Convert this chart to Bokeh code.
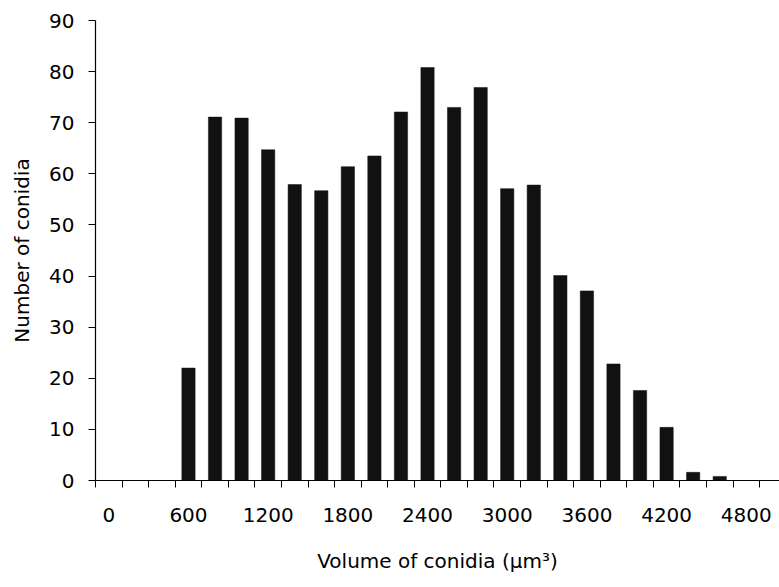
from bokeh.plotting import figure
from bokeh.models import FixedTicker, Range1d
from bokeh.embed import file_html
from bokeh.resources import INLINE

# Data (bin = 200 um^3)
volumes = [600, 800, 1000, 1200, 1400, 1600, 1800, 2000, 2200, 2400, 2600,
           2800, 3000, 3200, 3400, 3600, 3800, 4000, 4200, 4400, 4600]
counts = [22.0, 71.1, 70.9, 64.7, 57.9, 56.7, 61.4, 63.5, 72.1, 80.8, 73.0,
          76.9, 57.1, 57.8, 40.1, 37.1, 22.8, 17.6, 10.4, 1.6, 0.8]
x_tick_labels = [0, 600, 1200, 1800, 2400, 3000, 3600, 4200, 4800]
bin_edges = [-100 + 200 * i for i in range(26)]
y_ticks = [0, 10, 20, 30, 40, 50, 60, 70, 80, 90]

FONT = "DejaVu Sans"

p = figure(width=779, height=587, output_backend="svg", toolbar_location=None,
           x_range=Range1d(-100, 5050), y_range=Range1d(0, 90),
           min_border_left=95, min_border_right=0, min_border_top=20,
           min_border_bottom=107)
p.outline_line_color = None
p.grid.visible = False
p.background_fill_color = "white"
p.border_fill_color = "white"

p.vbar(x=volumes, top=counts, width=100, fill_color="#111111",
       line_color="#111111", line_width=0.5)

xa = p.xaxis[0]
xa.ticker = FixedTicker(ticks=x_tick_labels, minor_ticks=bin_edges)
xa.major_tick_out = 0
xa.major_tick_in = 0
xa.minor_tick_out = 7
xa.minor_tick_in = 0
xa.minor_tick_line_color = "black"
xa.axis_line_color = "black"
xa.axis_line_width = 1.2
xa.major_label_standoff = 20
xa.major_label_text_font = FONT
xa.major_label_text_font_size = "20px"
xa.major_label_text_color = "black"
xa.axis_label = "Volume of conidia (\u03bcm\u00b3)"
xa.axis_label_text_font = FONT
xa.axis_label_text_font_size = "20px"
xa.axis_label_text_font_style = "normal"
xa.axis_label_text_color = "black"
xa.axis_label_standoff = 24

ya = p.yaxis[0]
ya.ticker = FixedTicker(ticks=y_ticks, minor_ticks=[])
ya.major_tick_out = 7
ya.major_tick_in = 0
ya.minor_tick_out = 0
ya.minor_tick_in = 0
ya.major_tick_line_color = "black"
ya.axis_line_color = "black"
ya.axis_line_width = 1.2
ya.major_label_standoff = 14
ya.major_label_text_font = FONT
ya.major_label_text_font_size = "20px"
ya.major_label_text_color = "black"
ya.axis_label = "Number of conidia"
ya.axis_label_text_font = FONT
ya.axis_label_text_font_size = "20px"
ya.axis_label_text_font_style = "normal"
ya.axis_label_text_color = "black"
ya.axis_label_standoff = 12

open("out.html", "w").write(file_html(p, INLINE))
